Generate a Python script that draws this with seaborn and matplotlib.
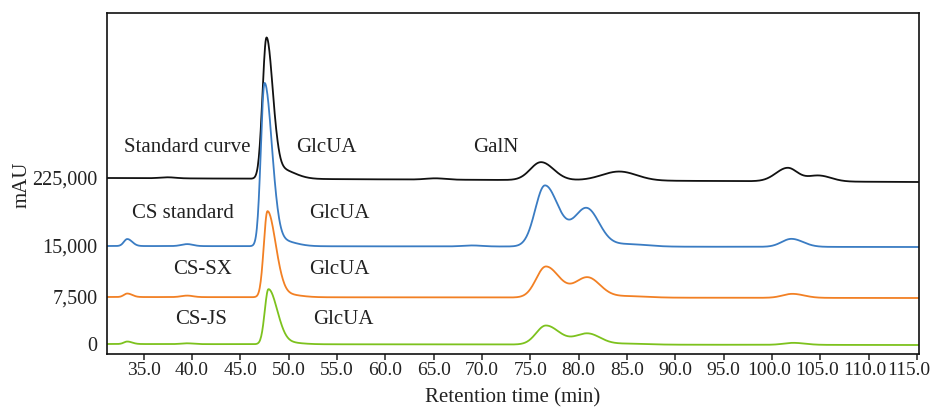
import numpy as np
import pandas as pd
import matplotlib
matplotlib.use("Agg")
import matplotlib.pyplot as plt
import matplotlib.transforms as mtransforms
import seaborn as sns

# Samples, stacked from top to bottom
samples = ["Standard curve", "CS standard", "CS-SX", "CS-JS"]
colors = ["#111111", "#3a7cc3", "#f28024", "#7dc21e"]
offsets = [166, 98, 47, 0]
offset_labels = ["225,000", "15,000", "7,500", "0"]
base_drift = [-4.0, -1.0, -1.0, -1.0]

# Peak tables: retention time (min), height, left/right peak width (min)
std_rt = [37.5, 47.7, 49.0, 65.2, 76.1, 84.2, 101.6, 104.8]
std_h = [1.0, 141.0, 10.0, 1.3, 18.0, 9.0, 13.4, 6.0]
std_sl = [0.8, 0.41, 0.5, 1.0, 1.1, 1.8, 1.2, 1.2]
std_sr = [0.8, 0.64, 1.5, 1.0, 1.3, 1.8, 1.0, 1.3]

cs_rt = [33.3, 39.5, 47.5, 49.0, 69.0, 76.5, 80.8, 85.0, 102.0]
cs_h = [7.0, 2.0, 163.0, 6.0, 1.0, 61.0, 38.0, 2.5, 8.0]
cs_sl = [0.35, 0.6, 0.38, 0.6, 1.0, 1.0, 1.3, 2.0, 1.0]
cs_sr = [0.5, 0.6, 0.75, 1.5, 1.0, 1.4, 1.3, 2.0, 1.2]

sx_rt = [33.3, 39.5, 47.8, 49.5, 76.6, 80.9, 85.0, 102.1]
sx_h = [3.5, 1.5, 86.0, 3.0, 31.0, 20.0, 1.5, 4.0]
sx_sl = [0.35, 0.6, 0.38, 0.6, 1.0, 1.3, 2.0, 1.0]
sx_sr = [0.5, 0.6, 0.85, 1.5, 1.4, 1.3, 2.0, 1.2]

js_rt = [33.3, 39.5, 47.9, 49.5, 76.6, 80.9, 85.0, 102.2]
js_h = [2.5, 0.8, 55.0, 2.0, 19.0, 11.0, 1.0, 2.0]
js_sl = [0.35, 0.6, 0.38, 0.6, 1.0, 1.3, 2.0, 1.0]
js_sr = [0.5, 0.6, 0.9, 1.5, 1.4, 1.3, 2.0, 1.2]

peak_tables = [
    (std_rt, std_h, std_sl, std_sr),
    (cs_rt, cs_h, cs_sl, cs_sr),
    (sx_rt, sx_h, sx_sl, sx_sr),
    (js_rt, js_h, js_sl, js_sr),
]

# Annotation text and positions (min, signal)
name_pos = [(39.5, 196), (39.1, 131), (41.1, 74), (40.9, 24)]
glcua_pos = [(53.9, 196), (55.2, 131), (55.2, 74), (55.7, 24)]
galn_pos = (71.4, 196)

x_ticks = np.arange(35, 116, 5)
t_min, t_max = 31.2, 115.2


def trace(t, rt, h, sl, sr):
    y = np.zeros_like(t)
    for r, a, s1, s2 in zip(rt, h, sl, sr):
        s = np.where(t < r, s1, s2)
        y += a * np.exp(-0.5 * ((t - r) / s) ** 2)
    return y


t = np.linspace(t_min, t_max, 1681)
frames = []
for name, off, drift, (rt, h, sl, sr) in zip(samples, offsets, base_drift, peak_tables):
    base = off + drift * (t - t_min) / (t_max - t_min)
    frames.append(pd.DataFrame({"time": t,
                                "signal": base + trace(t, rt, h, sl, sr),
                                "sample": name}))
df = pd.concat(frames, ignore_index=True)

sns.set_style("ticks")
plt.rcParams["font.family"] = ["Liberation Serif", "DejaVu Serif"]
plt.rcParams["axes.linewidth"] = 1.2

fig = plt.figure(figsize=(9.36, 4.07), dpi=100)
ax = fig.add_axes([107 / 936, 53 / 407, 812 / 936, 341 / 407])

sns.lineplot(data=df, x="time", y="signal", hue="sample", hue_order=samples,
             palette=colors, estimator=None, legend=False, linewidth=1.3, ax=ax)

ax.set_xlim(t_min, t_max)
ax.set_ylim(-10, 331)
ax.set_xticks(x_ticks)
ax.set_xticklabels([f"{v:.1f}" for v in x_ticks], fontsize=14)
ax.set_yticks(offsets)
ax.set_yticklabels(offset_labels, fontsize=14.5)
ax.tick_params(axis="x", length=4, width=1.1, pad=2, colors="#222222")
ax.tick_params(axis="y", length=0, pad=7, colors="#222222")
for sp in ax.spines.values():
    sp.set_visible(True)
    sp.set_color("#111111")

# the right-most tick labels sit slightly left so the last one stays on the canvas
xlabels = ax.get_xticklabels()
for lbl, shift in zip(xlabels[-4:], [3, 3, 4, 8]):
    lbl.set_transform(lbl.get_transform() +
                      mtransforms.ScaledTranslation(-shift / 100, 0, fig.dpi_scale_trans))

ax.set_xlabel("Retention time (min)", fontsize=15, color="#222222")
ax.set_ylabel("mAU", fontsize=15, color="#222222")
ax.xaxis.set_label_coords(0.499, -0.129)
ax.yaxis.set_label_coords(-0.105, 0.496)
ax.xaxis.label.set_va("center")
ax.yaxis.label.set_va("center")

for name, (x, y) in zip(samples, name_pos):
    ax.text(x, y, name, fontsize=15, ha="center", va="center", color="#222222")
for x, y in glcua_pos:
    ax.text(x, y, "GlcUA", fontsize=15, ha="center", va="center", color="#222222")
ax.text(galn_pos[0], galn_pos[1], "GalN", fontsize=15, ha="center", va="center", color="#222222")

fig.savefig("out.png", dpi=100)
